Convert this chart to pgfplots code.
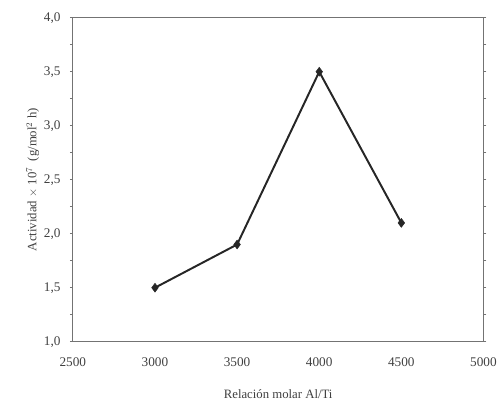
\documentclass[border=0pt]{standalone}
\usepackage{pgfplots}
\pgfplotsset{compat=1.18}
\usepackage{fontspec}
\setmainfont{Liberation Serif}
\begin{document}
\begin{tikzpicture}
\begin{axis}[
  scale only axis,
  width=417bp, height=329bp,
  xmin=2500, xmax=5000, ymin=1, ymax=4,
  xtick={2500,3000,...,5000},
  ytick={1,1.5,...,4},
  minor y tick num=1,
  axis line style={black!55, line width=0.8pt},
  tick style={black!55, line width=0.6pt},
  tick align=outside,
  major tick length=3bp, minor tick length=3bp,
  xtick style={draw=none},
  /pgf/number format/assume math mode=true,
  yticklabel style={/pgf/number format/.cd, fixed, fixed zerofill, precision=1, use comma},
  xticklabel style={/pgf/number format/.cd, 1000 sep={}},
  ticklabel style={font=\fontsize{13.5}{15}\selectfont, text=black!75},
  label style={font=\fontsize{13}{15}\selectfont, text=black!75},
  xlabel={Relación molar Al/Ti},
  ylabel={Actividad $\times$ 10$^{7}$ \ (g/mol$^{2}$ h)},
  xticklabel shift=10bp,
  yticklabel shift=6bp,
  xlabel style={yshift=-16bp},
  ylabel style={yshift=-2bp},
]
\addplot[black!85, line width=2pt, mark=diamond*, mark size=4.5bp, mark options={fill=black!85, line width=0.5pt}]
  coordinates {(3000,1.5) (3500,1.9) (4000,3.5) (4500,2.1)};
\end{axis}
\path[use as bounding box] (current axis.south west) ++(-74bp,-58bp) rectangle ++(500bp,405bp);
\end{tikzpicture}
\end{document}
